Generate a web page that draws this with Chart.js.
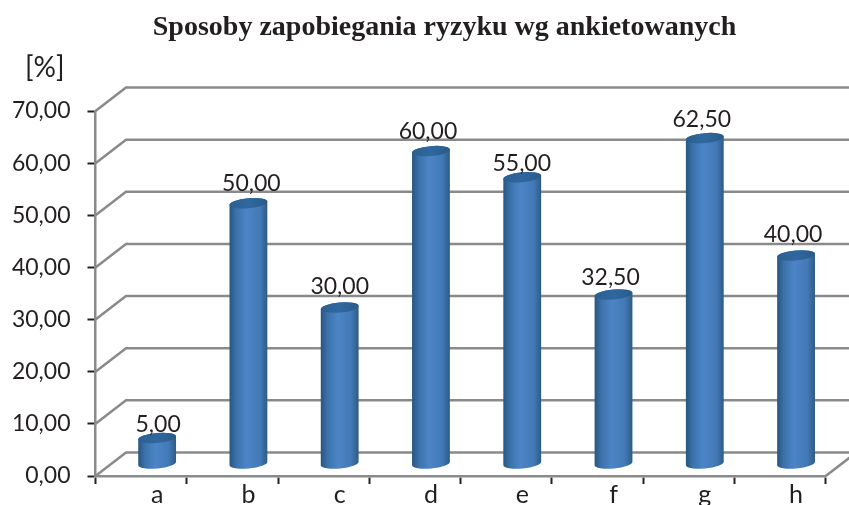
<!DOCTYPE html>
<html>
<head>
<meta charset="utf-8">
<title>Sposoby zapobiegania ryzyku</title>
<script src="https://cdn.jsdelivr.net/npm/chart.js@4"></script>
<style>
  html, body { margin: 0; padding: 0; background: #fff; overflow: hidden; }
  canvas { display: block; }
</style>
</head>
<body>
<canvas id="riskChart" width="849" height="505"></canvas>
<script>
const categories = ["a", "b", "c", "d", "e", "f", "g", "h"];
const percentValues = [5, 50, 30, 60, 55, 32.5, 62.5, 40];
const yTicks = [0, 10, 20, 30, 40, 50, 60, 70];

const formatPl = (v) => v.toFixed(2).replace(".", ",");

const TEXT = "#231f20";
const GRID = "#8a8a8a";
const FONT = "Lato, sans-serif";

// fake 3D: how far the back wall and the bars sit behind the axes
const wallDx = 30.5;
const wallDy = -23.5;
const barDx = 16;
const barDy = -12;
const capRy = 5;
const capTilt = -0.09;

// the data labels are hand placed in the original, so each one gets a nudge
const labelNudgeX = [1, 3, 0, -3, -0.5, -3, -3, -3];
const labelNudgeY = [-6, -12.5, -13.5, -12.5, -6, -10, -11.5, -13];

const walls3d = {
  id: "walls3d",
  // title is not centred on the canvas in the original
  afterLayout(chart) {
    chart.titleBlock.left = 63.3;
  },
  beforeDatasetsDraw(chart) {
    const { ctx, scales } = chart;
    const x = scales.x;
    const y = scales.y;
    ctx.save();
    ctx.strokeStyle = GRID;
    ctx.lineWidth = 2.5;
    yTicks.forEach((t) => {
      const py = y.getPixelForValue(t);
      ctx.beginPath();
      ctx.moveTo(x.left, py);
      ctx.lineTo(x.left + wallDx, py + wallDy);
      ctx.lineTo(x.right + wallDx, py + wallDy);
      ctx.stroke();
    });
    // floor edge on the right
    const py0 = y.getPixelForValue(0);
    ctx.beginPath();
    ctx.moveTo(x.right, py0);
    ctx.lineTo(x.right + wallDx, py0 + wallDy);
    ctx.stroke();
    ctx.restore();
  },
};

const cylinders = {
  id: "cylinders",
  // the library's flat bar is swapped for a cylinder below
  beforeDatasetDraw() {
    return false;
  },
  afterDatasetsDraw(chart) {
    const { ctx } = chart;
    const bars = chart.getDatasetMeta(0).data;
    ctx.save();
    bars.forEach((bar, i) => {
      const cx = bar.x + barDx;
      const rx = bar.width / 2;
      const top = bar.y + barDy;
      const base = bar.base + barDy;

      const body = ctx.createLinearGradient(cx - rx, 0, cx + rx, 0);
      body.addColorStop(0, "#27557f");
      body.addColorStop(0.18, "#3b72ab");
      body.addColorStop(0.45, "#4c85c7");
      body.addColorStop(0.8, "#4279b6");
      body.addColorStop(1, "#2d5b84");
      ctx.fillStyle = body;
      ctx.beginPath();
      ctx.ellipse(cx, base, rx, capRy, capTilt, 0, Math.PI);
      ctx.ellipse(cx, top, rx, capRy, capTilt, Math.PI, 2 * Math.PI);
      ctx.closePath();
      ctx.fill();

      const cap = ctx.createLinearGradient(cx - rx, 0, cx + rx, 0);
      cap.addColorStop(0, "#2c5f90");
      cap.addColorStop(0.5, "#2f689f");
      cap.addColorStop(1, "#2a5b88");
      ctx.fillStyle = cap;
      ctx.beginPath();
      ctx.ellipse(cx, top, rx, capRy, capTilt, 0, 2 * Math.PI);
      ctx.fill();

      ctx.fillStyle = TEXT;
      ctx.font = "23px " + FONT;
      ctx.textAlign = "center";
      ctx.textBaseline = "alphabetic";
      ctx.fillText(formatPl(percentValues[i]), cx + labelNudgeX[i], top + labelNudgeY[i]);
    });

    // unit above the y axis
    ctx.fillStyle = TEXT;
    ctx.font = "28px " + FONT;
    ctx.textAlign = "left";
    ctx.fillText("[%]", 25, 77);
    ctx.restore();
  },
};

new Chart(document.getElementById("riskChart"), {
  type: "bar",
  data: {
    labels: categories,
    datasets: [
      {
        data: percentValues,
        backgroundColor: "#4b84c6",
        borderWidth: 0,
        barPercentage: 0.416,
        categoryPercentage: 1,
      },
    ],
  },
  plugins: [walls3d, cylinders],
  options: {
    responsive: false,
    animation: false,
    layout: { padding: { left: 0, right: 23.3, top: 0, bottom: 0 } },
    plugins: {
      legend: { display: false },
      tooltip: { enabled: false },
      title: {
        display: true,
        text: "Sposoby zapobiegania ryzyku wg ankietowanych",
        color: TEXT,
        font: { family: "'Liberation Serif', serif", size: 28, weight: "bold" },
        padding: { top: 11, bottom: 66.4 },
      },
    },
    scales: {
      x: {
        afterFit(scale) {
          scale.height = 29;
        },
        border: { color: GRID, width: 2.5 },
        grid: { drawOnChartArea: false, tickLength: 8, tickColor: "#222", tickWidth: 2 },
        ticks: {
          autoSkip: false,
          maxRotation: 0,
          labelOffset: 16,
          padding: -4,
          color: TEXT,
          font: { family: FONT, size: 25 },
        },
      },
      y: {
        min: 0,
        max: 70,
        afterFit(scale) {
          scale.width = 95.5;
        },
        afterBuildTicks(scale) {
          scale.ticks = yTicks.map((value) => ({ value }));
        },
        border: { color: GRID, width: 2.5 },
        grid: { drawOnChartArea: false, tickLength: 8, tickColor: "#222", tickWidth: 2 },
        ticks: {
          autoSkip: false,
          padding: 17,
          color: TEXT,
          font: { family: FONT, size: 23, lineHeight: 1 },
          callback: (v) => formatPl(v),
        },
      },
    },
  },
});
</script>
</body>
</html>
